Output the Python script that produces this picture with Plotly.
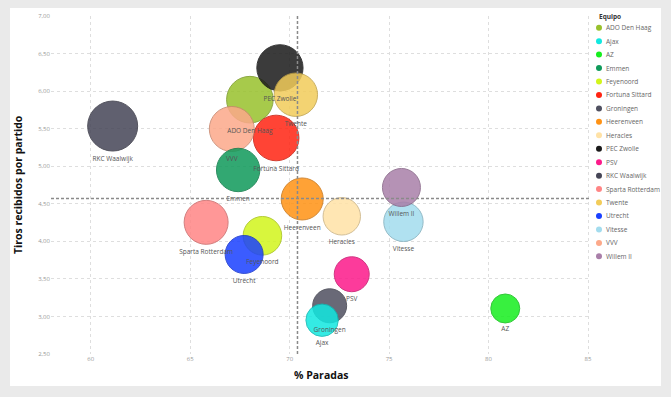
import numpy as np
import plotly.graph_objects as go

# ---------------- data ----------------
equipos = ["ADO Den Haag", "Ajax", "AZ", "Emmen", "Feyenoord", "Fortuna Sittard",
           "Groningen", "Heerenveen", "Heracles", "PEC Zwolle", "PSV", "RKC Waalwijk",
           "Sparta Rotterdam", "Twente", "Utrecht", "Vitesse", "VVV", "Willem II"]
pct_paradas = [68.00, 71.63, 80.84, 67.41, 68.63, 69.32, 72.01, 70.63, 72.62,
               69.51, 73.12, 61.10, 65.80, 70.31, 67.71, 75.72, 67.09, 75.62]
tiros_recibidos = [5.886, 2.950, 3.106, 4.950, 4.074, 5.376, 3.142, 4.564, 4.333,
                   6.310, 3.562, 5.535, 4.253, 5.952, 3.825, 4.260, 5.496, 4.717]
tamano = [54.3, 26.2, 21.0, 47.1, 37.2, 52.0, 28.9, 44.1, 35.0,
          53.4, 30.6, 62.5, 48.4, 47.1, 36.1, 38.8, 50.6, 36.1]
colores = ["#98c12c", "#11e8e0", "#16ee1e", "#0f9a5a", "#d2f51c", "#ff2412",
           "#4f5060", "#ff9214", "#ffe2a6", "#1a1a1a", "#fc1a8a", "#454556",
           "#ff8585", "#f2cc5a", "#1a40ff", "#a3dcee", "#fca98a", "#a97fa9"]
x_ticks = [60, 65, 70, 75, 80, 85]
y_ticks = [2.5, 3.0, 3.5, 4.0, 4.5, 5.0, 5.5, 6.0, 6.5, 7.0]

# ---------------- layout geometry (px) ----------------
W, H = 671, 397
L, R, T, B = 51, 590, 16, 354          # plot area edges in px
pw, ph = R - L, B - T


def px_x(p):
    return (p - L) / pw


def px_y(p):
    return (B - p) / ph


def darker(hexc, f=0.8):
    h = hexc.lstrip("#")
    r, g, b = (int(h[i:i + 2], 16) for i in (0, 2, 4))
    return "rgb(%d,%d,%d)" % (r * f, g * f, b * f)


MAXD = 50
sizeref = 2 * max(tamano) / (MAXD ** 2)
FONT = "Open Sans, Noto Sans, sans-serif"

fig = go.Figure()

order = sorted(range(len(equipos)), key=lambda i: -tamano[i])
for i in order:
    fig.add_trace(go.Scatter(
        x=[pct_paradas[i]], y=[tiros_recibidos[i]], mode="markers",
        name=equipos[i], showlegend=False,
        marker=dict(size=[tamano[i]], sizemode="area", sizeref=sizeref,
                    color=colores[i], opacity=0.85,
                    line=dict(color=darker(colores[i]), width=1)),
        hovertemplate="%{x:.1f}%<br>%{y:.2f}<extra>" + equipos[i] + "</extra>",
        cliponaxis=False,
    ))

# labels on top of all bubbles
fig.add_trace(go.Scatter(
    x=pct_paradas, y=tiros_recibidos, mode="markers+text", text=equipos,
    textposition="bottom center", showlegend=False, hoverinfo="skip",
    textfont=dict(family=FONT, size=6.5, color="#555555"),
    marker=dict(size=tamano, sizemode="area", sizeref=sizeref * 1.12,
                color="rgba(0,0,0,0)", line=dict(width=0)),
    cliponaxis=False,
))

mx = float(np.mean(pct_paradas))
my = float(np.mean(tiros_recibidos))

shapes = [
    dict(type="rect", xref="paper", yref="paper", layer="below",
         x0=px_x(10), x1=px_x(661), y0=px_y(386), y1=px_y(8),
         fillcolor="white", line=dict(width=0)),
    dict(type="line", xref="x", yref="paper", layer="above", x0=mx, x1=mx, y0=0, y1=1,
         line=dict(color="#8a8a8a", width=1.5, dash="3px,2px")),
    dict(type="line", xref="paper", yref="y", layer="above", x0=0, x1=1, y0=my, y1=my,
         line=dict(color="#8a8a8a", width=1.5, dash="3px,2px")),
]

annotations = [
    dict(text="% Paradas", xref="paper", yref="paper", x=0.5, y=px_y(375),
         xanchor="center", yanchor="middle", showarrow=False,
         font=dict(family=FONT, size=10.5, color="#111111", weight="bold")),
    dict(text="Tiros recibidos por partido", xref="paper", yref="paper",
         x=px_x(18), y=0.5, textangle=-90, xanchor="center", yanchor="middle",
         showarrow=False,
         font=dict(family=FONT, size=10.5, color="#111111", weight="bold")),
    dict(text="Equipo", xref="paper", yref="paper", x=px_x(597), y=px_y(16),
         xanchor="left", yanchor="middle", showarrow=False,
         font=dict(family=FONT, size=6.5, color="#333333", weight="bold")),
]

for k, (nm, c) in enumerate(zip(equipos, colores)):
    yc = 27.7 + k * 13.45
    shapes.append(dict(type="circle", xref="paper", yref="paper", layer="above",
                       x0=px_x(596), x1=px_x(602), y0=px_y(yc + 3), y1=px_y(yc - 3),
                       fillcolor=c, line=dict(width=0)))
    annotations.append(dict(text=nm, xref="paper", yref="paper", x=px_x(604),
                            y=px_y(yc), xanchor="left", yanchor="middle",
                            showarrow=False,
                            font=dict(family=FONT, size=6.5, color="#666666")))

fig.update_layout(
    width=W, height=H,
    margin=dict(l=L, r=W - R, t=T, b=H - B, pad=0),
    paper_bgcolor="#eaeaea", plot_bgcolor="rgba(0,0,0,0)",
    separators=",.",
    showlegend=False,
    font=dict(family=FONT),
    shapes=shapes, annotations=annotations,
    xaxis=dict(range=[58.0, 85.1], tickvals=x_ticks, ticksuffix="%",
               showgrid=True, gridcolor="#dedede", griddash="3px,3px", gridwidth=1,
               zeroline=False, showline=False, ticks="",
               tickfont=dict(family=FONT, size=6, color="#999999")),
    yaxis=dict(range=[2.5, 7.0], tickvals=y_ticks, tickformat=".2f",
               showgrid=True, gridcolor="#dedede", griddash="3px,3px", gridwidth=1,
               zeroline=False, showline=False, ticks="",
               tickfont=dict(family=FONT, size=6, color="#999999")),
)

fig.write_html("out.html",
               config={"displayModeBar": False},
               post_script="document.body.style.margin='0';"
                           "document.body.style.overflow='hidden';")
